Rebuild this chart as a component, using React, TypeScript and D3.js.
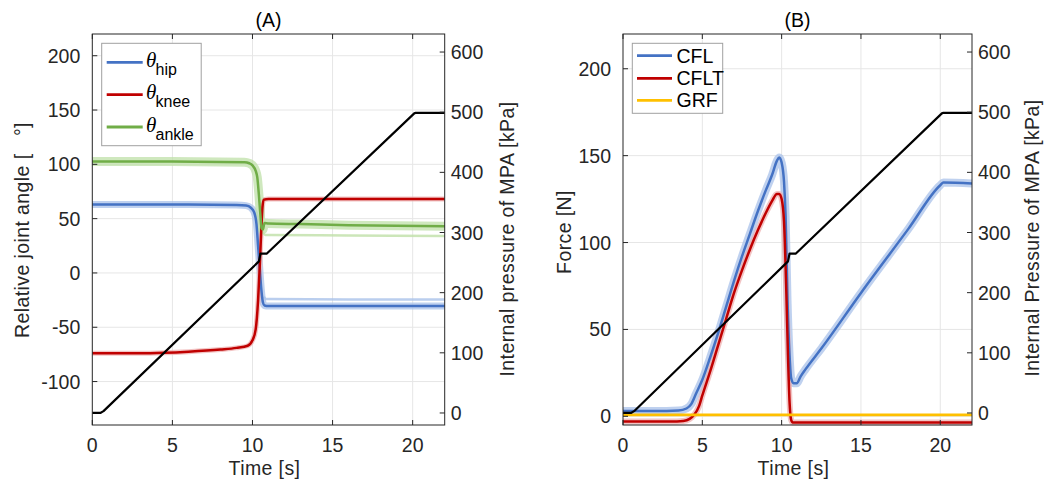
import React from 'react';
import * as d3 from 'd3';

// ---------- data ----------
const timeTicks = [0, 5, 10, 15, 20];
const angleTicks = [-100, -50, 0, 50, 100, 150, 200];
const forceTicks = [0, 50, 100, 150, 200];
const pressureTicks = [0, 100, 200, 300, 400, 500, 600];

const hipT = [0, 3, 6, 9, 9.6, 9.9, 10.1, 10.25, 10.35, 10.45, 10.55, 10.65, 10.75, 11, 16, 22];
const hipV = [63, 63, 63, 62.5, 62, 60, 56, 45, 25, 5, -15, -27, -30, -30.5, -30.5, -30.5];
const hipTrialT = [10.7, 10.85, 11, 16, 22];
const hipTrialV = [-22, -24, -24, -24.5, -24.5];

const kneeT = [0, 3, 4.5, 6, 8, 9, 9.7, 10.0, 10.2, 10.35, 10.45, 10.55, 10.62, 10.7, 11, 22];
const kneeV = [-74, -74, -73.5, -72.5, -70.5, -69, -67, -62, -52, -25, 5, 40, 60, 67.5, 68, 68];

const ankleT = [0, 5, 9.5, 9.8, 10.0, 10.2, 10.3, 10.4, 10.5, 10.57, 10.65, 10.75, 11, 13, 16, 22];
const ankleV = [102.5, 102.5, 102, 101, 99, 94, 88, 72, 52, 41, 40, 46, 45.5, 45, 44, 43];
const ankleTrialT = [10.6, 10.8, 11, 16, 22];
const ankleTrialV = [38, 35, 35, 34.5, 34];

const pressureT = [0, 0.5, 0.7, 10.4, 10.5, 10.9, 20.1, 20.2, 22];
const pressureV = [0, 0, 3, 252, 265, 265, 498, 499, 499];

const cflT = [0, 2, 3.5, 4, 4.3, 4.6, 5, 5.5, 6, 6.5, 7, 7.5, 8, 8.5, 9, 9.4, 9.7, 9.85, 10.0, 10.15, 10.25, 10.37, 10.5, 10.6, 10.75, 10.95, 11.2, 11.5, 12.5, 15, 18, 20, 20.2, 22];
const cflV = [3, 3, 3.3, 4.5, 7, 13, 21, 34, 48, 63, 78, 92, 105, 118, 130, 139, 147, 149, 146, 135, 115, 67, 35, 22, 19, 19, 23, 27, 39, 71, 108, 133, 134.5, 134];

const cfltT = [0, 3, 3.8, 4.2, 4.5, 4.8, 5, 5.5, 6, 6.5, 7, 7.5, 8, 8.5, 9, 9.4, 9.7, 9.85, 10.0, 10.15, 10.3, 10.4, 10.5, 10.6, 10.7, 22];
const cfltV = [-3, -3, -2.7, -1.5, 1, 6, 12, 26, 41, 56, 71, 84, 96, 107, 117, 124, 128, 128, 125, 112, 70, 35, 8, -2, -3.5, -3.5];

const grfT = [0, 5, 10, 15, 22];
const grfV = [0.8, 0.8, 0.8, 0.8, 0.8];

// ---------- styles ----------
const W = 1049, H = 481;
const FONT = '"Liberation Sans", Arial, Helvetica, sans-serif';
const FS = 19.5;
const AX = '#262626';
const GRID = '#e6e6e6';
const BLUE = '#4472C4', BLUE_L = '#a9c2ea';
const RED = '#C00000', RED_L = '#eeb0b0';
const GREEN = '#70AD47', GREEN_L = '#bfe0a8';
const YELLOW = '#FFC000';

const zip = (t: number[], v: number[]) => t.map((x, i) => [x, v[i]] as [number, number]);

type Series = { t: number[]; v: number[]; color: string; band?: string; bandW?: number; w?: number; faint?: boolean };

function Panel(props: {
  x0: number; x1: number; y0: number; y1: number;
  leftDomain: [number, number]; leftTicks: number[];
  series: Series[]; title: string; leftLabel: string; rightLabel: string;
  leftLabelX: number; leftLabelY: number; rightLabelX: number; rightLabelY: number;
  legend: React.ReactNode;
}) {
  const { x0, x1, y0, y1 } = props;
  const x = d3.scaleLinear().domain([0, 22]).range([x0, x1]);
  const yl = d3.scaleLinear().domain(props.leftDomain).range([y1, y0]);
  const yr = d3.scaleLinear().domain([-20, 630]).range([y1, y0]);
  const lineL = d3.line<[number, number]>().x(d => x(d[0])).y(d => yl(d[1])).curve(d3.curveMonotoneX);
  const lineR = d3.line<[number, number]>().x(d => x(d[0])).y(d => yr(d[1])).curve(d3.curveLinear);
  const tl = 5;
  return (
    <g>
      <defs>
        <clipPath id={'clip' + props.title}>
          <rect x={x0} y={y0} width={x1 - x0} height={y1 - y0} />
        </clipPath>
      </defs>
      {timeTicks.filter(t => t > 0).map(t => (
        <line key={'gx' + t} x1={x(t)} x2={x(t)} y1={y0} y2={y1} stroke={GRID} strokeWidth={1} />
      ))}
      {props.leftTicks.map(v => (
        <line key={'gy' + v} x1={x0} x2={x1} y1={yl(v)} y2={yl(v)} stroke={GRID} strokeWidth={1} />
      ))}
      <g clipPath={`url(#clip${props.title})`}>
        {props.series.filter(s => s.band).map((s, i) => (
          <path key={'b' + i} d={lineL(zip(s.t, s.v)) || ''} fill="none" stroke={s.band} strokeWidth={s.bandW || 7} strokeOpacity={0.75} strokeLinejoin="round" />
        ))}
        {props.series.filter(s => s.faint).map((s, i) => (
          <path key={'f' + i} d={lineL(zip(s.t, s.v)) || ''} fill="none" stroke={s.color} strokeWidth={s.w || 2.5} strokeOpacity={0.8} />
        ))}
        {props.series.filter(s => !s.faint).map((s, i) => (
          <path key={'s' + i} d={lineL(zip(s.t, s.v)) || ''} fill="none" stroke={s.color} strokeWidth={s.w || 2.5} strokeLinejoin="round" />
        ))}
        <path d={lineR(zip(pressureT, pressureV)) || ''} fill="none" stroke="#000" strokeWidth={2.2} strokeLinejoin="round" />
      </g>
      <rect x={x0} y={y0} width={x1 - x0} height={y1 - y0} fill="none" stroke={AX} strokeWidth={1} />
      {timeTicks.map(t => (
        <g key={'xt' + t}>
          <line x1={x(t)} x2={x(t)} y1={y1} y2={y1 - tl} stroke={AX} />
          <line x1={x(t)} x2={x(t)} y1={y0} y2={y0 + tl} stroke={AX} />
          <text x={x(t)} y={y1 + 27} textAnchor="middle" fontSize={FS} fontFamily={FONT} fill={AX}>{t}</text>
        </g>
      ))}
      {props.leftTicks.map(v => (
        <g key={'yl' + v}>
          <line x1={x0} x2={x0 + tl} y1={yl(v)} y2={yl(v)} stroke={AX} />
          <text x={x0 - 12} y={yl(v) + 7} textAnchor="end" fontSize={FS} fontFamily={FONT} fill={AX}>{v}</text>
        </g>
      ))}
      {pressureTicks.map(v => (
        <g key={'yr' + v}>
          <line x1={x1} x2={x1 - tl} y1={yr(v)} y2={yr(v)} stroke={AX} />
          <text x={x1 + 6} y={yr(v) + 7} textAnchor="start" fontSize={FS} fontFamily={FONT} fill={AX}>{v}</text>
        </g>
      ))}
      <text x={(x0 + x1) / 2} y={27} textAnchor="middle" fontSize={FS} fontFamily={FONT} fill="#000">{props.title}</text>
      <text x={(x0 + x1) / 2 - 4} y={475} textAnchor="middle" fontSize={FS} fontFamily={FONT} fill={AX} letterSpacing={0.4}>Time [s]</text>
      <text transform={`translate(${props.leftLabelX},${props.leftLabelY}) rotate(-90)`} textAnchor="middle" fontSize={FS} fontFamily={FONT} fill={AX} letterSpacing={0.4} style={{ whiteSpace: 'pre' }}>{props.leftLabel}</text>
      <text transform={`translate(${props.rightLabelX},${props.rightLabelY}) rotate(-90)`} textAnchor="middle" fontSize={FS} fontFamily={FONT} fill={AX} letterSpacing={0.4}>{props.rightLabel}</text>
      {props.legend}
    </g>
  );
}

function LegendA() {
  const items = [
    { sub: 'hip', color: BLUE, y: 62.3 },
    { sub: 'knee', color: RED, y: 94.6 },
    { sub: 'ankle', color: GREEN, y: 127 },
  ];
  return (
    <g>
      <rect x={101.7} y={43.3} width={99.5} height={102.4} fill="#fff" stroke="#a0a0a0" strokeWidth={1} />
      {items.map(it => (
        <g key={it.sub}>
          <line x1={106.7} x2={142.7} y1={it.y} y2={it.y} stroke={it.color} strokeWidth={2.8} />
          <text x={146} y={it.y + 4.5} fontSize={21} fontFamily='"Liberation Serif", "DejaVu Serif", serif' fontStyle="italic" fill="#000">θ</text>
          <text x={155.5} y={it.y + 12.5} fontSize={16} fontFamily={FONT} fill="#000">{it.sub}</text>
        </g>
      ))}
    </g>
  );
}

function LegendB() {
  const items = [
    { name: 'CFL', color: BLUE, y: 55.7 },
    { name: 'CFLT', color: RED, y: 78.4 },
    { name: 'GRF', color: YELLOW, y: 100.3 },
  ];
  return (
    <g>
      <rect x={632.3} y={43.3} width={90.4} height={70} fill="#fff" stroke="#a0a0a0" strokeWidth={1} />
      {items.map(it => (
        <g key={it.name}>
          <line x1={637} x2={672} y1={it.y} y2={it.y} stroke={it.color} strokeWidth={2.8} />
          <text x={676.5} y={it.y + 7} fontSize={FS} fontFamily={FONT} fill="#000">{it.name}</text>
        </g>
      ))}
    </g>
  );
}

export default function App() {
  const seriesA: Series[] = [
    { t: hipTrialT, v: hipTrialV, color: BLUE_L, faint: true, w: 2.5 },
    { t: ankleTrialT, v: ankleTrialV, color: GREEN_L, faint: true, w: 2.5 },
    { t: hipT, v: hipV, color: BLUE, band: BLUE_L, bandW: 7 },
    { t: kneeT, v: kneeV, color: RED, band: RED_L, bandW: 5 },
    { t: ankleT, v: ankleV, color: GREEN, band: GREEN_L, bandW: 9 },
  ];
  const seriesB: Series[] = [
    { t: cflT, v: cflV, color: BLUE, band: BLUE_L, bandW: 8 },
    { t: cfltT, v: cfltV, color: RED, band: RED_L, bandW: 6 },
    { t: grfT, v: grfV, color: YELLOW, w: 2.8 },
  ];
  return (
    <svg width={W} height={H} viewBox={`0 0 ${W} ${H}`} style={{ position: 'absolute', left: 0, top: 0, background: '#fff' }}>
      <rect x={0} y={0} width={W} height={H} fill="#fff" />
      <Panel x0={92.3} x1={444.7} y0={34} y1={425} leftDomain={[-140, 220]} leftTicks={angleTicks}
        series={seriesA} title="(A)" leftLabel="Relative joint angle [   °]" rightLabel="Internal pressure of MPA [kPa]"
        leftLabelX={29} leftLabelY={230} rightLabelX={514} rightLabelY={239} legend={<LegendA />} />
      <Panel x0={623} x1={972} y0={34} y1={425} leftDomain={[-5, 220]} leftTicks={forceTicks}
        series={seriesB} title="(B)" leftLabel="Force [N]" rightLabel="Internal Pressure of MPA [kPa]"
        leftLabelX={571} leftLabelY={232} rightLabelX={1039} rightLabelY={238} legend={<LegendB />} />
    </svg>
  );
}
